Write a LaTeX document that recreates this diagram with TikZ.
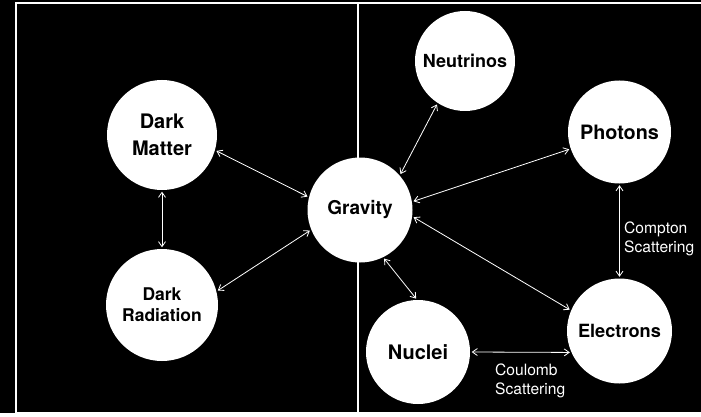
\documentclass[tikz,border=0pt]{standalone}
\usepackage{fontspec}
\setmainfont{TeX Gyre Heros}
\usetikzlibrary{arrows.meta}

\tikzset{
  ball/.style={circle, fill=white, text=black, minimum size=#1, inner sep=0pt, align=center},
  ball/.default=105pt,
  link/.style={white, line width=0.8pt, shorten >=1.5pt, shorten <=1.5pt,
    {Straight Barb[length=5pt,width=7pt]}-{Straight Barb[length=5pt,width=7pt]}},
  note/.style={text=white, anchor=west, align=left, inner sep=0pt, font=\fontsize{15.6}{19}\selectfont}
}

\begin{document}
\begin{tikzpicture}[x=1pt, y=-1pt]
  \useasboundingbox (0,0) rectangle (701,417);
  \fill[black] (0,0) rectangle (701,417);
  \fill[white] (0,413) rectangle (701,417);
  \draw[white, line width=2pt] (701,3) -- (15.5,3) -- (15.5,413) -- (701,413);
  \draw[white, line width=1.5pt] (358,3) -- (358,413);

  % particle species
  \node[ball=110pt, font=\bfseries\fontsize{20}{27}\selectfont] (dm) at (162,135) {Dark\\Matter};
  \node[ball=112pt, font=\bfseries\fontsize{17.5}{21}\selectfont] (dr) at (162,305) {Dark\\Radiation};
  \node[ball, font=\bfseries\fontsize{19}{22}\selectfont] (grav) at (360,210) {Gravity};
  \node[ball=100pt, font=\bfseries\fontsize{18}{22}\selectfont] (nu) at (465,61) {Neutrinos};
  \node[ball=103pt, font=\bfseries\fontsize{19.8}{22}\selectfont] (ph) at (619.5,132) {Photons};
  \node[ball, font=\bfseries\fontsize{18.2}{22}\selectfont] (el) at (619.5,331) {Electrons};
  \node[ball=104pt, font=\bfseries\fontsize{20}{22}\selectfont] (nuc) at (418,352) {Nuclei};

  % interactions
  \draw[link] (dm.-16) -- (grav.166);
  \draw[link] (dm.-90) -- (dr.90);
  \draw[link] (dr.14) -- (grav.202);
  \draw[link] (grav.41) -- (nu.237);
  \draw[link] (grav.9) -- (ph.199);
  \draw[link] (grav.-7) -- (el.157);
  \draw[link] (grav.-64) -- (nuc.91);
  \draw[link] (ph.-90) -- (el.90);
  \draw[link] (nuc.0) -- (el.204);

  \node[note] (compton) at (624,239) {Compton\\Scattering};
  \node[note] (coulomb) at (495,381) {Coulomb\\Scattering};
\end{tikzpicture}
\end{document}
